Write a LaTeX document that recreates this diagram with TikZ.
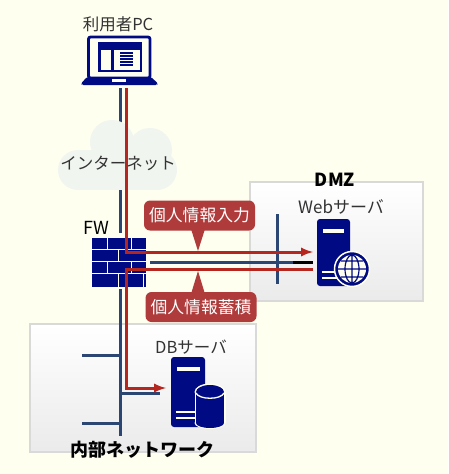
\documentclass[tikz,border=0pt]{standalone}
\usepackage{fontspec}
\setmainfont{Noto Sans CJK JP}
\usepackage{tikz}
\usetikzlibrary{calc}
\usetikzlibrary{arrows,shapes}
\definecolor{bgc}{HTML}{FFFFF0}
\definecolor{nv}{HTML}{000A82}
\definecolor{ln}{HTML}{2C4674}
\definecolor{rd}{HTML}{B5261E}
\definecolor{cl}{HTML}{AF3B3B}
\definecolor{bx}{HTML}{D9D9D9}
\definecolor{cd}{HTML}{F0F5F0}
\definecolor{tx}{HTML}{333333}
\tikzstyle{zone}=[draw=bx,line width=1.2pt,top color=white,bottom color=white!92!black]
\tikzstyle{lbl}=[text=tx,inner sep=0pt,font=\fontsize{16.5}{16.5}\selectfont]
\tikzstyle{ttl}=[text=black,inner sep=0pt,font=\fontsize{18}{18}\selectfont\bfseries]
\tikzstyle{callout}=[fill=cl,rounded corners=6pt,text=white,inner sep=0pt,minimum height=30pt,minimum width=111pt,font=\fontsize{16.8}{16.8}\selectfont]
\tikzstyle{netline}=[ln,line width=3pt]
\tikzstyle{redline}=[rd,line width=3pt,>=latex]

\begin{document}
\begin{tikzpicture}[x=1pt,y=-1pt]
	\useasboundingbox (0,0) rectangle (448,474);
	\fill[bgc] (0,0) rectangle (448,474);
	% zones
	\node[zone,minimum width=173pt,minimum height=119pt] (dmz) at (336.5,241.5) {};
	\node[zone,minimum width=226pt,minimum height=128pt] (inner) at (143,388) {};
	% network lines
	\coordinate (pcb) at (120,88);
	\coordinate (fwt) at (120,233);
	\coordinate (fwb) at (120,289);
	\coordinate (busb) at (120,436);
	\coordinate (fwr) at (150,262);
	\coordinate (dmzj) at (293,262);
	\coordinate (webl) at (313,262);
	\coordinate (dmzt) at (277,214);
	\coordinate (dmzb) at (277,284);
	\draw[netline] (pcb) -- (fwt);
	\draw[netline] (fwb) -- (busb);
	\draw[netline] (fwr) -- (dmzj);
	\draw[black,line width=3pt] (dmzj) -- (webl);
	\draw[netline] (dmzt) -- (dmzb);
	\foreach \y/\xa/\xb in {355/82/120,393/120/160,423/82/120}
		\draw[netline] (\xa,\y) -- (\xb,\y);
	% cloud
	\begin{scope}[cd]
		\fill (112,142) circle (22);
		\fill (150,150) circle (22);
		\fill (78,170) circle (20);
		\fill (157,170) circle (20);
		\fill (78,150) rectangle (157,190);
	\end{scope}
	% firewall
	\node[fill=nv,minimum width=54pt,minimum height=49pt,inner sep=0pt] (fw) at (119,262.5) {};
	\foreach \y in {249.5,261.5,273.5}
		\draw[bgc,line width=1pt] (92,\y) -- (146,\y);
	\foreach \x/\ya/\yb in {107/238/249.5,131/238/249.5,118/249.5/261.5,118/273.5/287,107/261.5/273.5,131/261.5/273.5,143/273.5/287}
		\draw[bgc,line width=1pt] (\x,\ya) -- (\x,\yb);
	% laptop
	\draw[nv,line width=2.8pt,fill=bgc,rounded corners=2pt] (88.5,37) rectangle (150,78);
	\fill[nv,rounded corners=1.5pt] (81,83.5) -- (87,77) -- (151,77) -- (158,83.5) -- (157,85) -- (82,85) -- cycle;
	\fill[bgc] (112,79) rectangle (126,82);
	\fill[nv] (98,42) rectangle (142,71.5);
	\fill[bgc] (100.5,50) rectangle (111,69.5);
	\fill[bgc] (113.5,50) rectangle (139.5,69.5);
	\foreach \y in {53,56,59,62,65}
		\draw[nv,line width=1.6pt] (120,\y) -- (133,\y);
	% servers
	\fill[nv,rounded corners=3pt] (317,219) rectangle (350,286);
	\fill[bgc] (323,229) rectangle (344,232.5);
	\draw[bgc,line width=1.2pt] (322,272) -- (345,272) (322,278) -- (345,278);
	\fill[nv,rounded corners=3pt] (171,357) rectangle (205,427);
	\fill[bgc] (177,367) rectangle (200,370.5);
	\draw[bgc,line width=1.2pt] (176,412) -- (200,412) (176,418) -- (200,418);
	% globe
	\draw[bgc,line width=1.5pt,fill=nv] (352,269) circle (17.5);
	\fill[bgc] (352,269) circle (14);
	\draw[nv,line width=1.2pt] (352,269) ellipse (7 and 14) (352,255) -- (352,283) (338,269) -- (366,269) (341,261) -- (363,261) (341,277) -- (363,277);
	% database
	\fill[bgc] (194.5,392) rectangle (225.5,423);
	\fill[bgc] (210,392) ellipse (15.5 and 8.5);
	\fill[bgc] (210,423) ellipse (15.5 and 6);
	\fill[nv] (196,392) rectangle (224,423);
	\fill[nv] (210,423) ellipse (14 and 5);
	\fill[nv] (210,392) ellipse (14 and 7);
	\draw[bgc,line width=1.3pt] (196,393) .. controls (199,400) and (221,400) .. (224,393);
	% labels
	\node[lbl] (pc) at (118,24) {利用者PC};
	\node[lbl] (net) at (118,163) {インターネット};
	\node[inner sep=0pt,font=\fontsize{18}{18}\selectfont] (fwl) at (96,228) {FW};
	\node[ttl] (dmzl) at (335,180) {DMZ};
	\node[lbl,font=\fontsize{17}{17}\selectfont] (web) at (341,207) {Webサーバ};
	\node[lbl] (db) at (191,347) {DBサーバ};
	\node[ttl] (innerl) at (142,450) {内部ネットワーク};
	% data flow
	\coordinate (pcr) at (126,88);
	\coordinate (c1) at (126,252);
	\coordinate (t1) at (313,252);
	\coordinate (t2) at (313,269);
	\coordinate (c2) at (126,269);
	\coordinate (c3) at (126,388);
	\coordinate (t3) at (166,388);
	\draw[redline,->] (pcr) -- (c1) -- (t1);
	\draw[redline,->] (t2) -- (c2) -- (c3) -- (t3);
	% callouts
	\node[callout] (inp) at (199.5,215.5) {個人情報入力};
	\node[callout] (sto) at (201,307) {個人情報蓄積};
	\fill[cl] (191,229) -- (198,251) -- (205,229) -- cycle;
	\fill[cl] (191,294) -- (198,271) -- (205,294) -- cycle;
\end{tikzpicture}
\end{document}
